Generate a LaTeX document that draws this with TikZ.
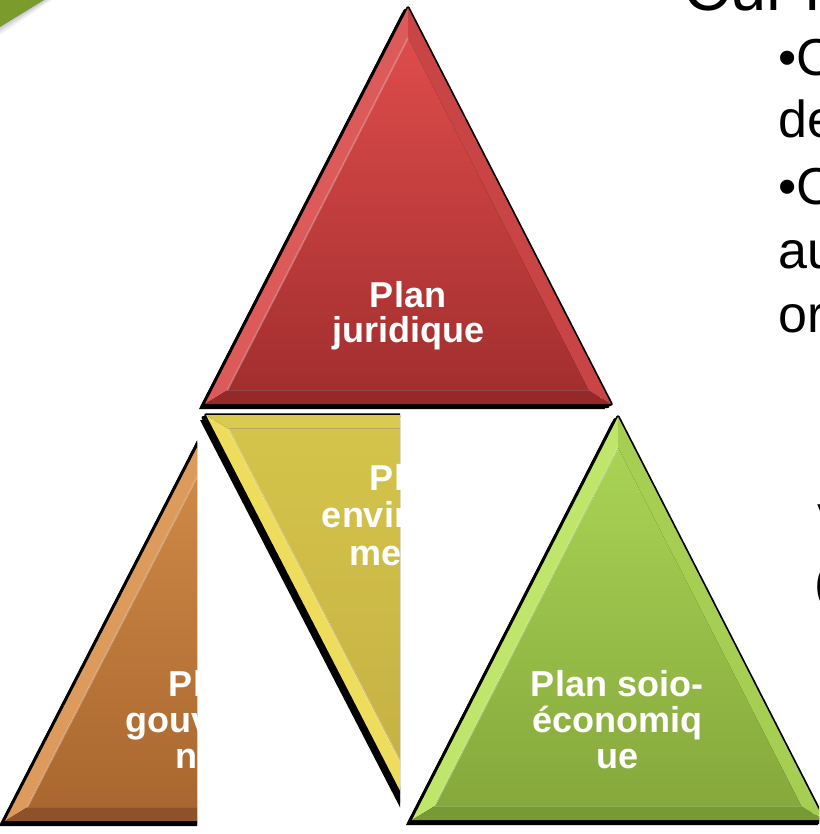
\documentclass[tikz,border=0pt]{standalone}
\usepackage{fontspec}
\setmainfont{Liberation Sans}
\usetikzlibrary{calc}
\newcommand{\bevk}{0.89}
% #1 apex A, #2 B, #3 C, #4 incentre, #5 band AB, #6 band BC, #7 band CA, #8 face top, #9 face bottom
\newcommand{\bevtri}[9]{%
  \coordinate (tA) at (#1); \coordinate (tB) at (#2); \coordinate (tC) at (#3); \coordinate (tI) at (#4);
  \coordinate (iA) at ($(tI)!\bevk!(tA)$);
  \coordinate (iB) at ($(tI)!\bevk!(tB)$);
  \coordinate (iC) at ($(tI)!\bevk!(tC)$);
  \fill[black] ([shift={(-6,5)}]tA) -- ([shift={(-6,5)}]tB) -- ([shift={(-6,5)}]tC) -- cycle;
  \draw[black, line width=3, line join=round] ([shift={(-3,2.5)}]tA) -- ([shift={(-3,2.5)}]tB) -- ([shift={(-3,2.5)}]tC) -- cycle;
  \draw[black, line width=3.5, line join=round] (tA) -- (tB) -- (tC) -- cycle;
  \fill[#5] (tA) -- (tB) -- (iB) -- (iA) -- cycle;
  \fill[#6] (tB) -- (tC) -- (iC) -- (iB) -- cycle;
  \fill[#7] (tC) -- (tA) -- (iA) -- (iC) -- cycle;
  \shade[top color=#8, bottom color=#9] (iA) -- (iB) -- (iC) -- cycle;
  \draw[white, opacity=.3, line width=1.5] (iA) -- (iB);
  \draw[white, opacity=.18, line width=1.2] (iB) -- (iC);
}
\definecolor{cornergreen}{HTML}{7B9B2C}
\definecolor{rL}{HTML}{DD5A5A}\definecolor{rB}{HTML}{952828}\definecolor{rR}{HTML}{C94444}
\definecolor{rT}{HTML}{DE4C4C}\definecolor{rD}{HTML}{A32E2E}
\definecolor{oL}{HTML}{DC9A5C}\definecolor{oB}{HTML}{8D5227}\definecolor{oR}{HTML}{C27C40}
\definecolor{oT}{HTML}{D18B48}\definecolor{oD}{HTML}{A9672F}
\definecolor{yL}{HTML}{EEDC5C}\definecolor{yB}{HTML}{D9CA50}\definecolor{yR}{HTML}{C2AC3E}
\definecolor{yT}{HTML}{D4C44A}\definecolor{yD}{HTML}{C6B044}
\definecolor{gL}{HTML}{BFE66A}\definecolor{gB}{HTML}{789A34}\definecolor{gR}{HTML}{A6CE52}
\definecolor{gT}{HTML}{A9D455}\definecolor{gD}{HTML}{86A83C}
\definecolor{cshadow}{HTML}{B8B8D0}
\begin{document}
\begin{tikzpicture}[x=1pt,y=-1pt,
  lbl/.style={text=white, font=\fontsize{36}{38}\selectfont\bfseries, inner sep=0pt, anchor=base},
  body/.style={text=black, font=\fontsize{52}{60}\selectfont, inner sep=0pt, anchor=base west},
  ttl/.style={text=black, font=\fontsize{65}{70}\selectfont, inner sep=0pt, anchor=base west}]
\useasboundingbox (0,0) rectangle (819,834);
\clip (0,0) rectangle (819,834);
\fill[white] (0,0) rectangle (819,834);

% corner decoration
\foreach \o/\op in {8/.15,6/.2,4/.3,2/.4}{
  \fill[cshadow, opacity=\op] (0,0) -- (44+\o,0) -- (0,27+\o) -- cycle;}
\fill[cornergreen] (0,0) -- (44,0) -- (0,27) -- cycle;

% red: Plan juridique
\bevtri{408,8}{205,404}{611,404}{408,280}{rL}{rB}{rR}{rT}{rD}
\node[lbl] (r1) at (408,307) {Plan};
\node[lbl] (r2) at (408,342) {juridique};

% orange: Plan gouvernance (cut)
\begin{scope}
  \clip (0,0) rectangle (197,834);
  \bevtri{208,426}{5,821}{411,821}{208,697}{oL}{oB}{oR}{oT}{oD}
  \node[lbl] (o1) at (207,696) {Plan};
  \node[lbl] (o2) at (207,732) {gouverna};
  \node[lbl] (o3) at (207,768) {nce};
\end{scope}

% yellow: Plan environnemental (cut)
\begin{scope}
  \clip (0,0) rectangle (400,834);
  \bevtri{410,810}{206,415}{614,415}{410,539.5}{yL}{yB}{yR}{yT}{yD}
  \node[lbl] (y1) at (408,490) {Plan};
  \node[lbl] (y2) at (408,527) {environne};
  \node[lbl] (y3) at (408,565) {mental};
\end{scope}

% green: Plan soio-economique
\bevtri{618,417}{412,820}{824,820}{618,694}{gL}{gB}{gR}{gT}{gD}
\node[lbl] (g1) at (617,696) {Plan soio-};
\node[lbl] (g2) at (617,732) {économiq};
\node[lbl] (g3) at (617,768) {ue};

% text at the right (cut by the frame)
\node[ttl] (title) at (683,11) {Cur l};
\node[body] (b1) at (778,76) {•C};
\node[body] (b2) at (778,138) {de};
\node[body] (b3) at (778,205) {•C};
\node[body] (b4) at (778,268) {au};
\node[body] (b5) at (778,332) {or};
\node[body] (b6) at (817,540) {V};
\node[body] (b7) at (814,600) {(};
\end{tikzpicture}
\end{document}
